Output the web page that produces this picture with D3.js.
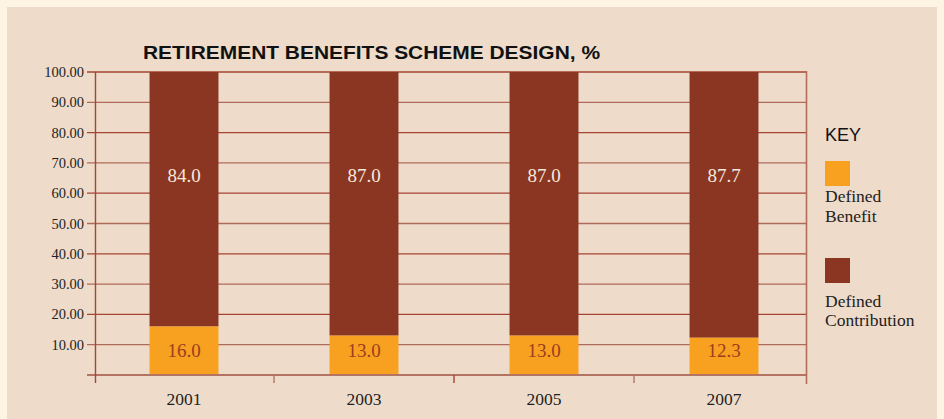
<!DOCTYPE html>
<html><head><meta charset="utf-8">
<script src="https://cdn.jsdelivr.net/npm/d3@7"></script>
<style>html,body{margin:0;padding:0;background:#fdf4e4;}svg{display:block;}</style>
</head><body>
<svg id="c" width="944" height="419"></svg>
<script>
const years = ["2001","2003","2005","2007"];
const definedBenefit = [16.0, 13.0, 13.0, 12.3];
const definedContribution = [84.0, 87.0, 87.0, 87.7];
const yTicks = [10,20,30,40,50,60,70,80,90,100];
const legendLabels = [["Defined","Benefit"],["Defined","Contribution"]];
const title = "RETIREMENT BENEFITS SCHEME DESIGN, %";

const svg = d3.select("#c");
const cOrange = "#f8a01f", cBrown = "#8b3623", cGrid = "#a64535";
svg.append("rect").attr("x",7).attr("y",7).attr("width",930).attr("height",420).attr("fill","#eedbca");

const x = d3.scaleBand().domain(years).range([94,814]).paddingInner(0.617).paddingOuter(0.3085);
const y = d3.scaleLinear().domain([0,100]).range([375,72]);
const serif = "'Liberation Serif', serif";

// gridlines
svg.append("g").selectAll("line").data(yTicks).join("line")
  .attr("x1",87).attr("x2",806).attr("y1",d=>y(d)).attr("y2",d=>y(d))
  .attr("stroke",(d,i)=> i%2===0 ? "#b06a5a" : cGrid).attr("stroke-width",1.3);

// y labels
svg.append("g").selectAll("text").data(yTicks).join("text")
  .attr("x",84).attr("y",d=>y(d)).attr("dy","0.35em").attr("text-anchor","end")
  .attr("font-family",serif).attr("font-size",14.5).attr("fill","#222")
  .text(d=>d3.format(".2f")(d));

// bars
const stack = years.map((yr,i)=>({yr, db:definedBenefit[i], dc:definedContribution[i]}));
const g = svg.append("g");
g.selectAll(".dc").data(stack).join("rect")
  .attr("x",d=>x(d.yr)).attr("width",x.bandwidth())
  .attr("y",d=>y(d.db+d.dc)).attr("height",d=>y(d.db)-y(d.db+d.dc)).attr("fill",cBrown);
g.selectAll(".db").data(stack).join("rect")
  .attr("x",d=>x(d.yr)).attr("width",x.bandwidth())
  .attr("y",d=>y(d.db)).attr("height",d=>y(0)-y(d.db)).attr("fill",cOrange);

// value labels
g.selectAll(".ldc").data(stack).join("text")
  .attr("x",d=>x(d.yr)+x.bandwidth()/2).attr("y",y(66)).attr("dy","0.35em").attr("text-anchor","middle")
  .attr("font-family",serif).attr("font-size",19).attr("fill","#f5e9dc")
  .text(d=>d.dc.toFixed(1));
g.selectAll(".ldb").data(stack).join("text")
  .attr("x",d=>x(d.yr)+x.bandwidth()/2).attr("y",y(8.3)).attr("dy","0.35em").attr("text-anchor","middle")
  .attr("font-family",serif).attr("font-size",19).attr("fill","#9c3d22")
  .text(d=>d.db.toFixed(1));

// axes lines
svg.append("line").attr("x1",87).attr("x2",806).attr("y1",375).attr("y2",375).attr("stroke","#b47464").attr("stroke-width",2.2);
svg.append("line").attr("x1",95.5).attr("x2",95.5).attr("y1",72).attr("y2",383).attr("stroke",cGrid).attr("stroke-width",1.4);
svg.append("line").attr("x1",806.5).attr("x2",806.5).attr("y1",71).attr("y2",384).attr("stroke","#b36b5c").attr("stroke-width",1.6);
// category boundary ticks
const bounds = years.slice(1).map(yr=>x(yr)-x.step()*x.paddingInner()/2);
svg.append("g").selectAll("line").data(bounds).join("line")
  .attr("x1",d=>d).attr("x2",d=>d).attr("y1",375).attr("y2",383)
  .attr("stroke",(d,i)=>i===1?cGrid:"#b47464").attr("stroke-width",1.4);

// x labels
svg.append("g").selectAll("text").data(years).join("text")
  .attr("x",d=>x(d)+x.bandwidth()/2).attr("y",405).attr("text-anchor","middle")
  .attr("font-family",serif).attr("font-size",17.5).attr("fill","#222").text(d=>d);

// title
svg.append("text").attr("x",143).attr("y",59).attr("font-family","'Liberation Sans', Arial, sans-serif")
  .attr("font-size",18).attr("font-weight","bold").attr("fill","#111")
  .attr("textLength",457).attr("lengthAdjust","spacingAndGlyphs").text(title);

// legend
svg.append("text").attr("x",825).attr("y",141).attr("font-family","'Liberation Sans', Arial, sans-serif")
  .attr("font-size",18).attr("fill","#111").text("KEY");
const leg = svg.append("g").selectAll("g").data([cOrange,cBrown]).join("g")
  .attr("transform",(d,i)=>`translate(825,${161+i*97})`);
leg.append("rect").attr("width",25).attr("height",25).attr("fill",d=>d);
leg.each(function(d,i){
  const t = d3.select(this).append("text").attr("font-family",serif).attr("font-size",17.5).attr("fill","#222");
  legendLabels[i].forEach((s,j)=>t.append("tspan").attr("x",0).attr("y",i===0?41+j*20:49+j*19).text(s));
});
</script>
</body></html>
